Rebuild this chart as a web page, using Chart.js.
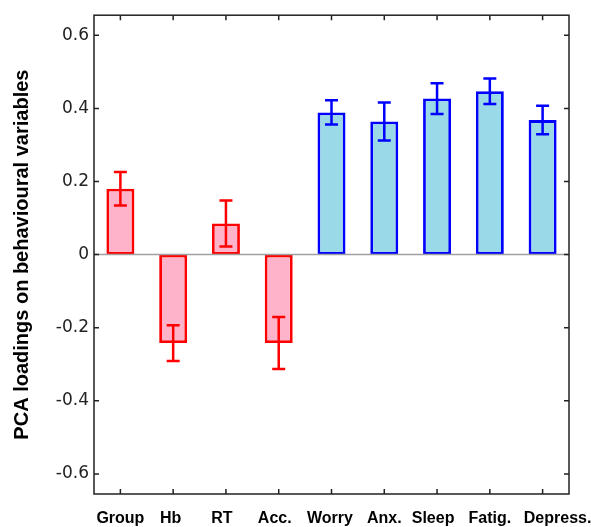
<!DOCTYPE html>
<html>
<head>
<meta charset="utf-8">
<script src="https://cdn.jsdelivr.net/npm/chart.js@4"></script>
<style>
    html, body { margin: 0; padding: 0; background: #fff; }
    #wrap { width: 591px; height: 527px; }
</style>
</head>
<body>
<div id="wrap"><canvas id="pcaChart"></canvas></div>
<script>
// data
const categories = ['Group', 'Hb', 'RT', 'Acc.', 'Worry', 'Anx.', 'Sleep', 'Fatig.', 'Depress.']
const loadings = [0.180, -0.242, 0.085, -0.242, 0.389, 0.364, 0.427, 0.447, 0.368]
const errors = [0.046, 0.049, 0.063, 0.071, 0.033, 0.052, 0.042, 0.035, 0.039]
const yTicks = [-0.6, -0.4, -0.2, 0, 0.2, 0.4, 0.6]

// colors (first 4 are the red group, rest blue)
const pinkFill = '#ffb3ca'
const redLine = '#ff0000'
const blueFill = '#9ad9e8'
const blueLine = '#0000ff'
const isRed = categories.map((c, i) => i < 4)

// the original labels are not exactly centred under their ticks
const labelShift = [0, -2.5, -4, -4, -1.5, 0, -4, 0, 15]

const labelNudge = {
    id: 'labelNudge',
    beforeDraw(chart) {
        const items = chart.scales.x.getLabelItems()
        items.forEach((item, i) => {
            if (item._nudged) return
            item.options.translation[0] += labelShift[i] || 0
            item._nudged = true
        })
    }
}

// error bars, zero line and the inward tick box
const errorBarPlugin = {
    id: 'errorBars',
    afterDatasetsDraw(chart) {
        const ctx = chart.ctx
        const x = chart.scales.x
        const y = chart.scales.y
        const area = chart.chartArea

        // zero line on top of the bars
        ctx.save()
        ctx.strokeStyle = '#a0a0a0'
        ctx.lineWidth = 1.5
        ctx.beginPath()
        ctx.moveTo(area.left, y.getPixelForValue(0))
        ctx.lineTo(area.right, y.getPixelForValue(0))
        ctx.stroke()

        ctx.lineWidth = 2.5
        for (let i = 0; i < loadings.length; i++) {
            const cx = x.getPixelForValue(i)
            const top = y.getPixelForValue(loadings[i] + errors[i])
            const bot = y.getPixelForValue(loadings[i] - errors[i])
            ctx.strokeStyle = isRed[i] ? redLine : blueLine
            ctx.beginPath()
            ctx.moveTo(cx, top); ctx.lineTo(cx, bot)
            ctx.moveTo(cx - 6.5, top); ctx.lineTo(cx + 6.5, top)
            ctx.moveTo(cx - 6.5, bot); ctx.lineTo(cx + 6.5, bot)
            ctx.stroke()
        }

        // frame
        ctx.strokeStyle = '#222'
        ctx.lineWidth = 1.5
        ctx.strokeRect(area.left, area.top, area.right - area.left, area.bottom - area.top)

        // tick marks pointing inside
        const tl = 5
        ctx.beginPath()
        yTicks.forEach(v => {
            const py = y.getPixelForValue(v)
            ctx.moveTo(area.left, py); ctx.lineTo(area.left + tl, py)
            ctx.moveTo(area.right, py); ctx.lineTo(area.right - tl, py)
        })
        categories.forEach((c, i) => {
            const px = x.getPixelForValue(i)
            ctx.moveTo(px, area.top); ctx.lineTo(px, area.top + tl)
            ctx.moveTo(px, area.bottom); ctx.lineTo(px, area.bottom - tl)
        })
        ctx.stroke()
        ctx.restore()
    }
}

let pcaChart = new Chart(document.getElementById('pcaChart'), {
    type: 'bar',
    data: {
        labels: categories,
        datasets: [{
            data: loadings,
            backgroundColor: isRed.map(r => r ? pinkFill : blueFill),
            borderColor: isRed.map(r => r ? redLine : blueLine),
            borderWidth: 2.8,
            borderSkipped: false,
            barPercentage: 0.53,
            categoryPercentage: 1
        }]
    },
    options: {
        responsive: true,
        maintainAspectRatio: false,
        animation: false,
        layout: {
            padding: { top: 12, right: 22, left: 0, bottom: 0 }
        },
        plugins: {
            legend: { display: false },
            tooltip: { enabled: false }
        },
        scales: {
            x: {
                offset: true,
                grid: { display: false, drawTicks: false },
                border: { display: false },
                ticks: {
                    color: '#000',
                    padding: 15,
                    maxRotation: 0,
                    autoSkip: false,
                    font: { family: 'Liberation Sans, Arial', size: 16, weight: 'bold' }
                },
                afterFit: scale => {
                    scale.height = 33
                    // don't let the long last label shrink the plot
                    scale.paddingLeft = 0
                    scale.paddingRight = 0
                }
            },
            y: {
                min: -0.655,
                max: 0.655,
                grid: { display: false, drawTicks: false },
                border: { display: false },
                afterBuildTicks: scale => {
                    scale.ticks = yTicks.map(v => ({ value: v }))
                },
                ticks: {
                    color: '#222',
                    padding: 5,
                    font: { family: 'DejaVu Sans', size: 17 },
                    callback: v => String(Math.round(v * 10) / 10)
                },
                title: {
                    display: true,
                    text: 'PCA loadings on behavioural variables',
                    color: '#000',
                    padding: { top: 10, bottom: 0 },
                    font: { family: 'Liberation Sans, Arial', size: 20, weight: 'bold' }
                },
                afterFit: scale => { scale.width = 94 }
            }
        }
    },
    plugins: [labelNudge, errorBarPlugin]
});
</script>
</body>
</html>
